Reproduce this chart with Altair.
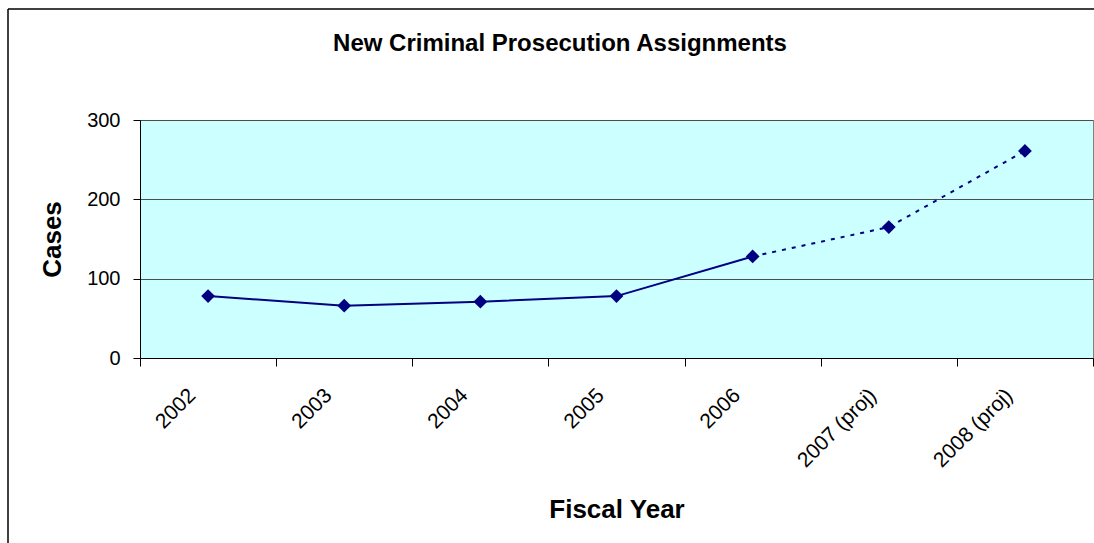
import altair as alt
import pandas as pd

# ---- data ----
years = ["2002", "2003", "2004", "2005", "2006", "2007 (proj)", "2008 (proj)"]
cases = [78, 66, 71, 78, 128, 165, 261]
actual_count = 5          # 2002..2006 are actual, drawn solid
proj_start = 4            # projection segment starts at 2006

title_text = "New Criminal Prosecution Assignments"
x_title = "Fiscal Year"
y_title = "Cases"
y_ticks = [0, 100, 200, 300]

FONT = "Liberation Sans, Arial, sans-serif"
NAVY = "#000080"

df_all = pd.DataFrame({"year": years, "cases": cases})
df_actual = df_all.iloc[:actual_count]
df_proj = df_all.iloc[proj_start:]

W, H = 953, 238

x_enc = alt.X(
    "year:N",
    sort=years,
    scale=alt.Scale(type="band", domain=years, paddingInner=0, paddingOuter=0),
    axis=alt.Axis(
        title=x_title,
        labelAngle=-45,
        labelAlign="right",
        labelBaseline="middle",
        labelFontSize=21,
        labelFont=FONT,
        labelColor="#000000",
        labelPadding=26,
        labelOffset=-16,
        tickBand="extent",
        tickSize=8,
        tickColor="#000000",
        domainColor="#000000",
        grid=False,
        titleFont=FONT,
        titleFontSize=26,
        titleFontWeight="bold",
        titleColor="#000000",
        titleX=W / 2,
        titleY=159,
        titleAlign="center",
        titleBaseline="alphabetic",
        labelOverlap=False,
    ),
)

y_enc = alt.Y(
    "cases:Q",
    scale=alt.Scale(domain=[0, 300], nice=False, zero=True),
    axis=alt.Axis(
        title=y_title,
        values=y_ticks,
        labelFontSize=20,
        labelFont=FONT,
        labelColor="#000000",
        labelPadding=13,
        tickSize=7,
        tickColor="#000000",
        domainColor="#000000",
        grid=True,
        gridColor="#4d4d4d",
        gridWidth=1,
        titleFont=FONT,
        titleFontSize=26,
        titleFontWeight="bold",
        titleColor="#000000",
        titleAngle=-90,
        titleX=-80,
        titleY=H / 2,
        titleAlign="center",
        titleBaseline="alphabetic",
    ),
)

solid = alt.Chart(df_actual).mark_line(color=NAVY, strokeWidth=2).encode(x=x_enc, y=y_enc)
dashed = alt.Chart(df_proj).mark_line(color=NAVY, strokeWidth=2, strokeDash=[4, 6]).encode(x=x_enc, y=y_enc)
points = alt.Chart(df_all).mark_point(
    shape="diamond", filled=True, color=NAVY, size=190, opacity=1
).encode(x=x_enc, y=y_enc)

# outer chart frame and chart title (decoration)
one = alt.Data(values=[{"k": 1}])
frame_top = alt.Chart(one).mark_rule(color="#000000", strokeWidth=1.5).encode(
    x=alt.value(-132), x2=alt.value(W + 10), y=alt.value(-111)
)
frame_left = alt.Chart(one).mark_rule(color="#000000", strokeWidth=1.5).encode(
    x=alt.value(-132), y=alt.value(-111), y2=alt.value(H + 200)
)
title_mark = alt.Chart(one).mark_text(
    text=title_text,
    font=FONT,
    fontSize=24,
    fontWeight="bold",
    color="#000000",
    align="center",
    baseline="alphabetic",
).encode(x=alt.value(420), y=alt.value(-69))

chart = alt.layer(frame_top, frame_left, title_mark, solid, dashed, points).properties(
    width=W,
    height=H,
    autosize=alt.AutoSizeParams(type="none"),
    padding={"left": 140, "top": 120, "right": 1, "bottom": 185},
    background="#FFFFFF",
).configure_view(
    fill="#CCFFFF", stroke="#808080", strokeWidth=1
)

chart.save("out.html", embed_options={"renderer": "svg", "actions": False})
